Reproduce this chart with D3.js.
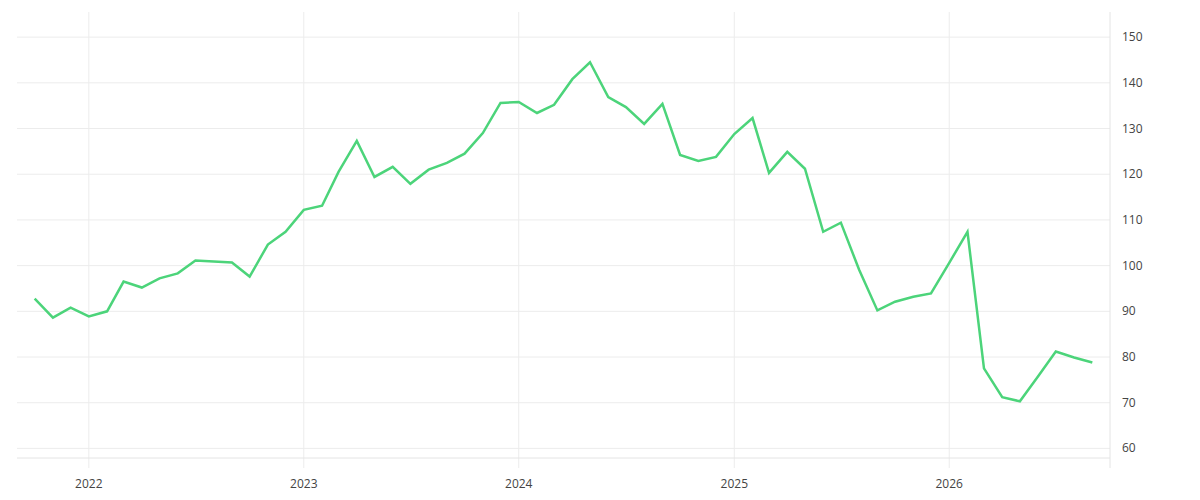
<!DOCTYPE html>
<html><head><meta charset="utf-8">
<script src="https://cdn.jsdelivr.net/npm/d3@7"></script>
<style>body{margin:0;background:#fff}text{font-family:"Open Sans",sans-serif;font-size:12px;fill:#444}</style>
</head><body><svg id="c" width="1200" height="500"></svg>
<script>
const startMonth = "2021-10";
const values = [92.8,88.6,90.8,88.9,90,96.5,95.2,97.2,98.3,101.1,100.9,100.7,97.6,104.6,107.4,112.2,113.1,120.5,127.3,119.4,121.6,117.9,121,122.5,124.5,129,135.6,135.8,133.4,135.2,140.8,144.5,136.9,134.7,131,135.4,124.2,122.9,123.8,128.8,132.3,120.3,124.9,121.2,107.4,109.4,99.1,90.2,92.1,93.2,93.9,100.6,107.4,77.5,71.2,70.3,75.8,81.2,79.9,78.8];
const yTicks = [60,70,80,90,100,110,120,130,140,150];
const xTicks = ["2022","2023","2024","2025","2026"];

const svg = d3.select("#c");
const L=17,R=1110,T=12,B=458;
const t0 = d3.timeParse("%Y-%m")(startMonth);
const dates = values.map((v,i)=>d3.timeMonth.offset(t0,i));
const x = d3.scaleTime().domain([d3.timeMonth.offset(t0,-0.05), d3.timeMonth.offset(t0,60.7)]).range([L,R]);
const y = d3.scaleLinear().domain([57.9,155.5]).range([B,T]);
const g = svg.append("g");
yTicks.forEach(v=>g.append("line").attr("x1",L).attr("x2",R).attr("y1",y(v)).attr("y2",y(v)).attr("stroke","#ececec"));
xTicks.forEach(s=>{const d=new Date(+s,0,1);g.append("line").attr("x1",x(d)).attr("x2",x(d)).attr("y1",T).attr("y2",468).attr("stroke","#ececec");
 g.append("text").attr("x",x(d)).attr("y",488).attr("text-anchor","middle").text(s);});
g.append("line").attr("x1",L).attr("x2",R).attr("y1",B).attr("y2",B).attr("stroke","#e4e4e4");
g.append("line").attr("x1",R).attr("x2",R).attr("y1",T).attr("y2",468).attr("stroke","#e4e4e4");
yTicks.forEach(v=>g.append("text").attr("x",1122).attr("y",y(v)+4).text(v));
svg.append("path").datum(values).attr("fill","none").attr("stroke","#4cd47a").attr("stroke-width",2.5)
 .attr("d",d3.line().x((d,i)=>x(dates[i])).y(d=>y(d)));
</script></body></html>
